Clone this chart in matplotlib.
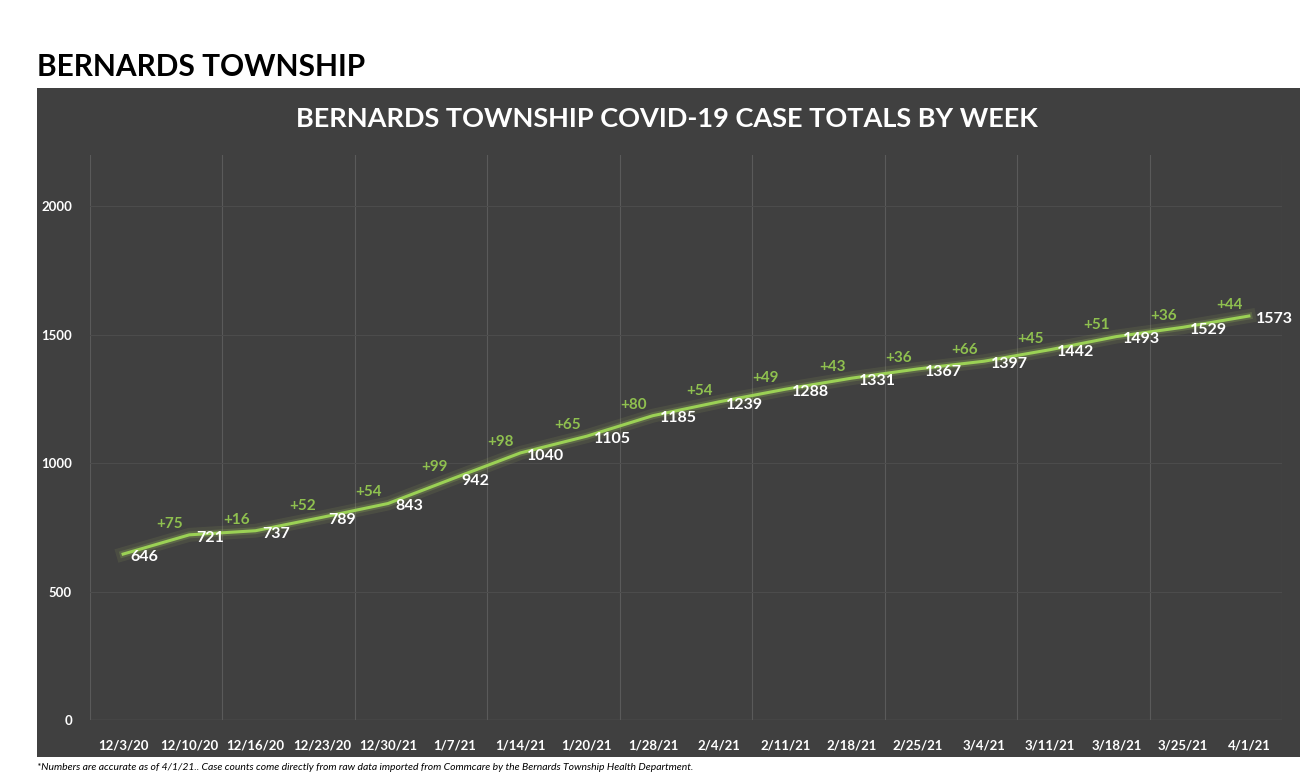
import matplotlib
matplotlib.use("Agg")
import matplotlib.pyplot as plt
import matplotlib.patheffects as pe
from matplotlib.patches import Rectangle

weeks = ["12/3/20", "12/10/20", "12/16/20", "12/23/20", "12/30/21", "1/7/21",
         "1/14/21", "1/20/21", "1/28/21", "2/4/21", "2/11/21", "2/18/21",
         "2/25/21", "3/4/21", "3/11/21", "3/18/21", "3/25/21", "4/1/21"]
totals = [646, 721, 737, 789, 843, 942, 1040, 1105, 1185, 1239, 1288, 1331,
          1367, 1397, 1442, 1493, 1529, 1573]
increases = ["", "+75", "+16", "+52", "+54", "+99", "+98", "+65", "+80", "+54",
             "+49", "+43", "+36", "+66", "+45", "+51", "+36", "+44"]
y_ticks = [0, 500, 1000, 1500, 2000]

plt.rcParams['font.family'] = ['Lato', 'DejaVu Sans']

W, H = 1311, 784
fig = plt.figure(figsize=(W / 100, H / 100), dpi=100)
fig.patch.set_facecolor("white")

# dark panel
panel = Rectangle((37 / W, 1 - 757 / H), 1263 / W, 669 / H,
                  transform=fig.transFigure, facecolor="#404040",
                  edgecolor="none", zorder=-5)
fig.patches.append(panel)

fig.text(37 / W, 1 - 67 / H, "BERNARDS TOWNSHIP", fontsize=21.5, fontweight="bold",
         color="black", ha="left", va="center")
fig.text(667 / W, 1 - 119 / H, "BERNARDS TOWNSHIP COVID-19 CASE TOTALS BY WEEK",
         fontsize=19.5, fontweight="bold", color="white", ha="center", va="center")
fig.text(37 / W, 1 - 768 / H,
         "*Numbers are accurate as of 4/1/21.. Case counts come directly from raw data "
         "imported from Commcare by the Bernards Township Health Department.",
         fontsize=7.5, style="italic", color="black", ha="left", va="center")

ax = fig.add_axes([90 / W, 1 - 720 / H, 1192 / W, 565 / H], zorder=2)
ax.set_facecolor("none")
x = list(range(len(weeks)))

ax.set_xlim(-0.5, len(weeks) - 0.5)
ax.set_ylim(0, 2200)

# gridlines
for gx in [i - 0.5 for i in range(0, len(weeks) + 1, 2)]:
    ax.axvline(gx, color="#5a5a5a", lw=0.8, zorder=1)
for gy in y_ticks[1:]:
    ax.axhline(gy, color="#4c4c4c", lw=0.8, zorder=1)
ax.axhline(0, color="#5a5a5a", lw=1.0, zorder=1)

ax.plot(x, totals, color="#9BD155", lw=2.2, zorder=3,
        path_effects=[pe.Stroke(linewidth=10, foreground="#B5C860", alpha=0.10),
                      pe.Stroke(linewidth=5, foreground="#A8D060", alpha=0.2),
                      pe.Normal()])

for i, (v, inc) in enumerate(zip(totals, increases)):
    ax.annotate(str(v), (i, v), xytext=(5, -2), textcoords="offset points",
                ha="left", va="center", color="white", fontsize=11.5,
                fontweight="bold", zorder=4)
    if inc:
        ax.annotate(inc, (i, v), xytext=(-14, 8), textcoords="offset points",
                    ha="center", va="center", color="#8FC04F", fontsize=11,
                    fontweight="bold", zorder=4)

ax.set_xticks(x)
ax.set_xticklabels(weeks, color="white", fontsize=9.5, fontweight="bold")
ax.set_yticks(y_ticks)
ax.set_yticklabels([str(t) for t in y_ticks], color="white", fontsize=9.5,
                   fontweight="bold")
ax.tick_params(axis="both", length=0)
ax.tick_params(axis="x", pad=14)
ax.tick_params(axis="y", pad=13)
for s in ax.spines.values():
    s.set_visible(False)

fig.savefig("out.png", dpi=100, facecolor="white")
